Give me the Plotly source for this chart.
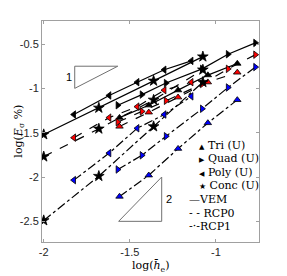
import plotly.graph_objects as go

# mesh x-values (log h)
tri_x = [-1.56, -1.39, -1.22, -1.047, -0.876]
quad_x = [-1.57, -1.43, -1.29, -1.08, -0.93, -0.771]
poly_x = [-1.825, -1.62, -1.457, -1.30, -1.143]
conc_x = [-2.0, -1.68, -1.362, -1.076]

# VEM
tri_vem = [-1.33, -1.19, -1.02, -0.85, -0.72]
quad_vem = [-1.19, -1.07, -0.94, -0.78, -0.615, -0.487]
poly_vem = [-1.295, -1.08, -0.93, -0.79, -0.69]
conc_vem = [-1.52, -1.22, -0.915, -0.642]
# RCP0
tri_rcp0 = [-1.43, -1.27, -1.10, -0.93, -0.82]
quad_rcp0 = [-1.38, -1.26, -1.14, -0.95, -0.78, -0.62]
poly_rcp0 = [-1.556, -1.33, -1.206, -1.02, -0.93]
conc_rcp0 = [-1.77, -1.456, -1.13, -0.79]
# RCP1
tri_rcp1 = [-2.22, -1.98, -1.68, -1.39, -1.13]
quad_rcp1 = [-1.915, -1.755, -1.54, -1.23, -0.99, -0.76]
poly_rcp1 = [-2.035, -1.73, -1.45, -1.295, -1.09]
conc_rcp1 = [-2.49, -1.99, -1.43, -0.93]

x_ticks = [-2, -1.5, -1]
y_ticks = [-2.5, -2, -1.5, -1, -0.5]

meshes = [("Tri", tri_x, "triangle-up"), ("Quad", quad_x, "triangle-right"),
          ("Poly", poly_x, "triangle-left"), ("Conc", conc_x, "star")]
methods = {
    "VEM": ([tri_vem, quad_vem, poly_vem, conc_vem], "solid", "black"),
    "RCP0": ([tri_rcp0, quad_rcp0, poly_rcp0, conc_rcp0], "dash", "#ff0000"),
    "RCP1": ([tri_rcp1, quad_rcp1, poly_rcp1, conc_rcp1], "dashdot", "#0000ff"),
}

fig = go.Figure()
for mname, (ys, dash, face) in methods.items():
    for (name, xs, sym), yv in zip(meshes, ys):
        fc = "black" if sym == "star" else face
        fig.add_trace(go.Scatter(
            x=xs, y=yv, mode="lines+markers",
            line=dict(color="black", width=1.2, dash=dash),
            marker=dict(symbol=sym, size=8 if sym == "star" else 6.5, color=fc,
                        line=dict(color="black", width=0.8)),
            showlegend=False, hoverinfo="skip"))

# slope triangles
fig.add_trace(go.Scatter(x=[-1.82, -1.57, -1.82, -1.82], y=[-0.75, -0.75, -1.0, -0.75],
                         mode="lines", line=dict(color="#707070", width=1),
                         showlegend=False, hoverinfo="skip"))
fig.add_trace(go.Scatter(x=[-1.565, -1.315, -1.315, -1.565], y=[-2.5, -2.5, -2.0, -2.5],
                         mode="lines", line=dict(color="#707070", width=1),
                         showlegend=False, hoverinfo="skip"))

axis_common = dict(showgrid=False, zeroline=False, showline=True, linecolor="#a0a0a0",
                   linewidth=1, mirror="allticks", ticks="inside", ticklen=3,
                   tickcolor="#a0a0a0",
                   tickfont=dict(family="Liberation Sans, Arial", size=11, color="#262626"))

# the page body has an 8px margin, so the figure is 8px smaller and shifted
fig.update_layout(
    width=279, height=268,
    margin=dict(l=30, r=28, t=12, b=34),
    plot_bgcolor="white", paper_bgcolor="white",
    xaxis=dict(range=[-2.01, -0.75], tickvals=x_ticks,
               ticktext=[str(v) for v in x_ticks], **axis_common),
    yaxis=dict(range=[-2.733, -0.24], tickvals=y_ticks,
               ticktext=[str(v) for v in y_ticks], **axis_common),
)

serif = "DejaVu Serif"
ann = []
ann.append(dict(x=-1.855, y=-0.87, xref="x", yref="y", text="1", showarrow=False,
                font=dict(family="Liberation Sans", size=11, color="black")))
ann.append(dict(x=-1.27, y=-2.248, xref="x", yref="y", text="2", showarrow=False,
                font=dict(family="Liberation Sans", size=11, color="black")))


def sym(c, s=8):
    return '<span style="font-size:%dpx">%s</span>' % (s, c)


legend_rows = [
    (sym("\u25B2", 7) + " Tri (U)", 0.714, 0.437),
    (sym("\u25B6", 7) + " Quad (U)", 0.714, 0.376),
    (sym("\u25C0", 7) + " Poly (U)", 0.714, 0.315),
    (sym("\u2605", 8) + " Conc (U)", 0.714, 0.2545),
    ("\u2014VEM", 0.666, 0.194),
    ("- - RCP0", 0.666, 0.131),
    ("-\u00B7-RCP1", 0.666, 0.068),
]
for t, xx, yy in legend_rows:
    ann.append(dict(x=xx, y=yy, xref="paper", yref="paper", text=t, showarrow=False,
                    xanchor="left", yanchor="middle",
                    font=dict(family=serif, size=11, color="black")))
ann.append(dict(x=0.498, y=-0.113, xref="paper", yref="paper",
                text="log(<i>h\u0304</i><sub>e</sub>)", showarrow=False,
                xanchor="center", yanchor="middle",
                font=dict(family=serif, size=11, color="black")))
ann.append(dict(x=-0.11, y=0.5, xref="paper", yref="paper",
                text="log(<i>E</i><sub>\u03C3</sub> %)", textangle=-90, showarrow=False,
                xanchor="center", yanchor="middle",
                font=dict(family=serif, size=11, color="black")))
fig.update_layout(annotations=ann)
fig.write_html("out.html")
